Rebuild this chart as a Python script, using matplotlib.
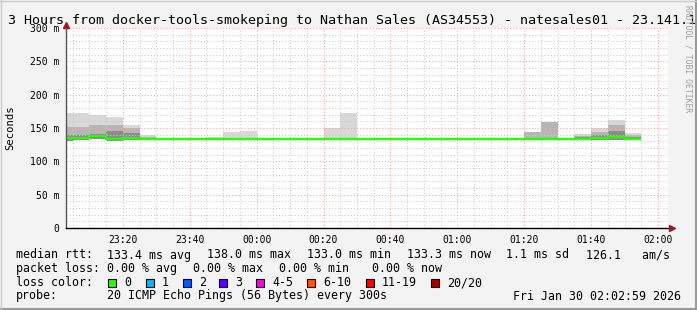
import matplotlib
matplotlib.use("Agg")
import matplotlib.pyplot as plt
from matplotlib.lines import Line2D
from matplotlib.patches import Rectangle
from matplotlib.ticker import MultipleLocator
import numpy as np

# 5 minute bins, 23:00 .. 01:50
bin_labels = ["23:00", "23:05", "23:10", "23:15", "23:20", "23:25", "23:30", "23:35",
              "23:40", "23:45", "23:50", "23:55", "00:00", "00:05", "00:10", "00:15",
              "00:20", "00:25", "00:30", "00:35", "00:40", "00:45", "00:50", "00:55",
              "01:00", "01:05", "01:10", "01:15", "01:20", "01:25", "01:30", "01:35",
              "01:40", "01:45", "01:50"]

# median rtt (ms)
median_ms = [134.5, 135, 138, 133, 134.5, 133.5, 133, 133, 133, 133, 133, 133,
             133, 133, 133, 133, 133, 133, 133, 133, 133, 133, 133, 133,
             133, 133, 133, 133, 133, 133, 133, 133, 135, 136, 133]
# smoke: highest ping, upper bands, lowest ping (ms)
smoke_max = [173, 172.5, 169, 166.5, 155, 139.5, 135, 134.5, 133.8, 137, 144.5, 146,
             133.8, 133.8, 133.8, 133.8, 149.5, 173, 133.8, 133.8, 133.8, 133.8, 133.8, 133.8,
             133.8, 133.8, 133.8, 133.8, 143.5, 159.5, 135.5, 140.5, 149.5, 162, 143]
smoke_p90 = [151, 152, 155, 155, 150, 137, 134, 134, 133.5, 134, 134, 134,
             133.5, 133.5, 133.5, 133.5, 134, 134, 133.5, 133.5, 133.5, 133.5, 133.5, 133.5,
             133.5, 133.5, 133.5, 133.5, 143.5, 159.5, 134.5, 138, 144.5, 155, 139]
smoke_p75 = [140, 140, 141, 145, 142, 135, 133.5, 133.5, 133.2, 133.5, 133.5, 133.5,
             133.2, 133.2, 133.2, 133.2, 133.5, 133.5, 133.2, 133.2, 133.2, 133.2, 133.2, 133.2,
             133.2, 133.2, 133.2, 133.2, 133.5, 134, 133.5, 136, 139, 146, 136]
smoke_min = [131, 132, 133, 131, 132, 132, 132.5, 132.5, 132.5, 132.5, 132.5, 132.5,
             132.5, 132.5, 132.5, 132.5, 132.5, 132.5, 132.5, 132.5, 132.5, 132.5, 132.5, 132.5,
             132.5, 132.5, 132.5, 132.5, 132.5, 132.5, 132.5, 132, 132, 132, 132]

time_ticks = ["23:20", "23:40", "00:00", "00:20", "00:40", "01:00", "01:20", "01:40", "02:00"]
y_ticks = ["0", "50 m", "100 m", "150 m", "200 m", "250 m", "300 m"]

stats_rtt = ["133.4 ms avg", "138.0 ms max", "133.0 ms min", "133.3 ms now", "1.1 ms sd", "126.1   am/s"]
stats_loss = ["0.00 % avg", "0.00 % max", "0.00 % min", "0.00 % now"]
loss_names = ["0", "1", "2", "3", "4-5", "6-10", "11-19", "20/20"]
loss_colors = ["#26ff00", "#00b8ff", "#0059ff", "#5e00ff", "#ff00ea", "#ff5500", "#ff0000", "#a10000"]

W, H = 697, 310
MONO = "DejaVu Sans Mono"
plt.rcParams["font.family"] = MONO


def fx(px):
    return px / W


def fy(py):
    return 1 - py / H


fig = plt.figure(figsize=(W / 100, H / 100), dpi=100, facecolor="#f3f3f3")
ax = fig.add_axes([fx(66), fy(228), 602 / W, 200 / H])
ax.set_facecolor("white")

edges = np.arange(len(bin_labels) + 1) * 5.0

# smoke, lightest outer band first
ax.stairs(smoke_max, edges, baseline=smoke_min, fill=True, color="#d8d8d8", zorder=1)
ax.stairs(smoke_p90, edges, baseline=smoke_min, fill=True, color="#b6b6b6", zorder=1.1)
ax.stairs(smoke_p75, edges, baseline=smoke_min, fill=True, color="#8c8c8c", zorder=1.2)
ax.stairs(median_ms, edges, baseline=None, color=loss_colors[0], lw=1.7, zorder=3)

ax.set_xlim(3, 183)
ax.set_ylim(0, 300)

ax.set_xticks(np.arange(20, 181, 20))
ax.set_xticklabels(time_ticks)
ax.xaxis.set_minor_locator(MultipleLocator(5))
ax.set_yticks(np.arange(0, 301, 50))
ax.set_yticklabels(y_ticks)
ax.yaxis.set_minor_locator(MultipleLocator(10))

ax.grid(which="minor", color="#cccccc", linestyle=(0, (1, 2)), lw=0.75, zorder=2)
ax.grid(which="major", color="#ff9c9c", linestyle=(0, (1, 2)), lw=0.75, zorder=2)
ax.set_axisbelow(False)

ax.tick_params(axis="both", which="both", length=0, labelsize=7, colors="#000000")
ax.tick_params(axis="x", pad=5)
ax.tick_params(axis="y", pad=5)
for s in ["top", "right"]:
    ax.spines[s].set_visible(False)
ax.spines["left"].set_color("#555555")
ax.spines["bottom"].set_color("#000000")
ax.spines["left"].set_linewidth(1)
ax.spines["bottom"].set_linewidth(1)
ax.spines["left"].set_zorder(4)
ax.spines["bottom"].set_zorder(4)

# axis arrows
ax.plot([3], [304.5], marker="^", ms=4.5, color="#9b1b1b", clip_on=False, zorder=5)
ax.plot([184.2], [0], marker=">", ms=4.5, color="#9b1b1b", clip_on=False, zorder=5)

fig.text(fx(8), fy(24), "3 Hours from docker-tools-smokeping to Nathan Sales (AS34553) - natesales01 - 23.141.1",
         fontsize=9.6, va="baseline", ha="left")
fig.text(fx(10), fy(128), "Seconds", rotation=90, fontsize=7.6, va="center", ha="center")
fig.text(fx(688), fy(5), "RRDTOOL / TOBI OETIKER", rotation=270, fontsize=5.8,
         va="top", ha="center", color="#a0a0a0")

LS = 8.4
row_y = [258.5, 272, 286, 299.5]
fig.text(fx(16), fy(row_y[0]), "median rtt:", fontsize=LS, va="baseline")
for x, s in zip([107, 207, 307, 407.5, 506.5, 586.5], stats_rtt):
    fig.text(fx(x), fy(row_y[0]), s, fontsize=LS, va="baseline")
fig.text(fx(16), fy(row_y[1]), "packet loss:", fontsize=LS, va="baseline")
for x, s in zip([107, 193, 279, 372], stats_loss):
    fig.text(fx(x), fy(row_y[1]), s, fontsize=LS, va="baseline")
fig.text(fx(16), fy(row_y[2]), "loss color:", fontsize=LS, va="baseline")
for x, name, c in zip([108, 145.7, 183, 219, 256, 307.3, 365.7, 430.7], loss_names, loss_colors):
    fig.add_artist(Rectangle((fx(x), fy(286.5)), 8 / W, 8 / H, transform=fig.transFigure,
                             facecolor=c, edgecolor="black", lw=0.8))
    fig.text(fx(x + 16), fy(row_y[2]), name, fontsize=LS, va="baseline")
fig.text(fx(16), fy(row_y[3]), "probe:", fontsize=LS, va="baseline")
fig.text(fx(107), fy(row_y[3]), "20 ICMP Echo Pings (56 Bytes) every 300s", fontsize=LS, va="baseline")
fig.text(fx(681), fy(row_y[3]), "Fri Jan 30 02:02:59 2026", fontsize=LS, va="baseline", ha="right")

# image frame
fig.add_artist(Line2D([0, 1], [fy(308.5), fy(308.5)], transform=fig.transFigure, color="#999999", lw=1.5))
fig.add_artist(Line2D([fx(695.5), fx(695.5)], [0, 1], transform=fig.transFigure, color="#999999", lw=1.5))
fig.add_artist(Line2D([0, 1], [fy(0.5), fy(0.5)], transform=fig.transFigure, color="#cbcbcb", lw=1))
fig.add_artist(Line2D([fx(0.5), fx(0.5)], [0, 1], transform=fig.transFigure, color="#cbcbcb", lw=1))

fig.savefig("out.png", dpi=100, facecolor=fig.get_facecolor())
